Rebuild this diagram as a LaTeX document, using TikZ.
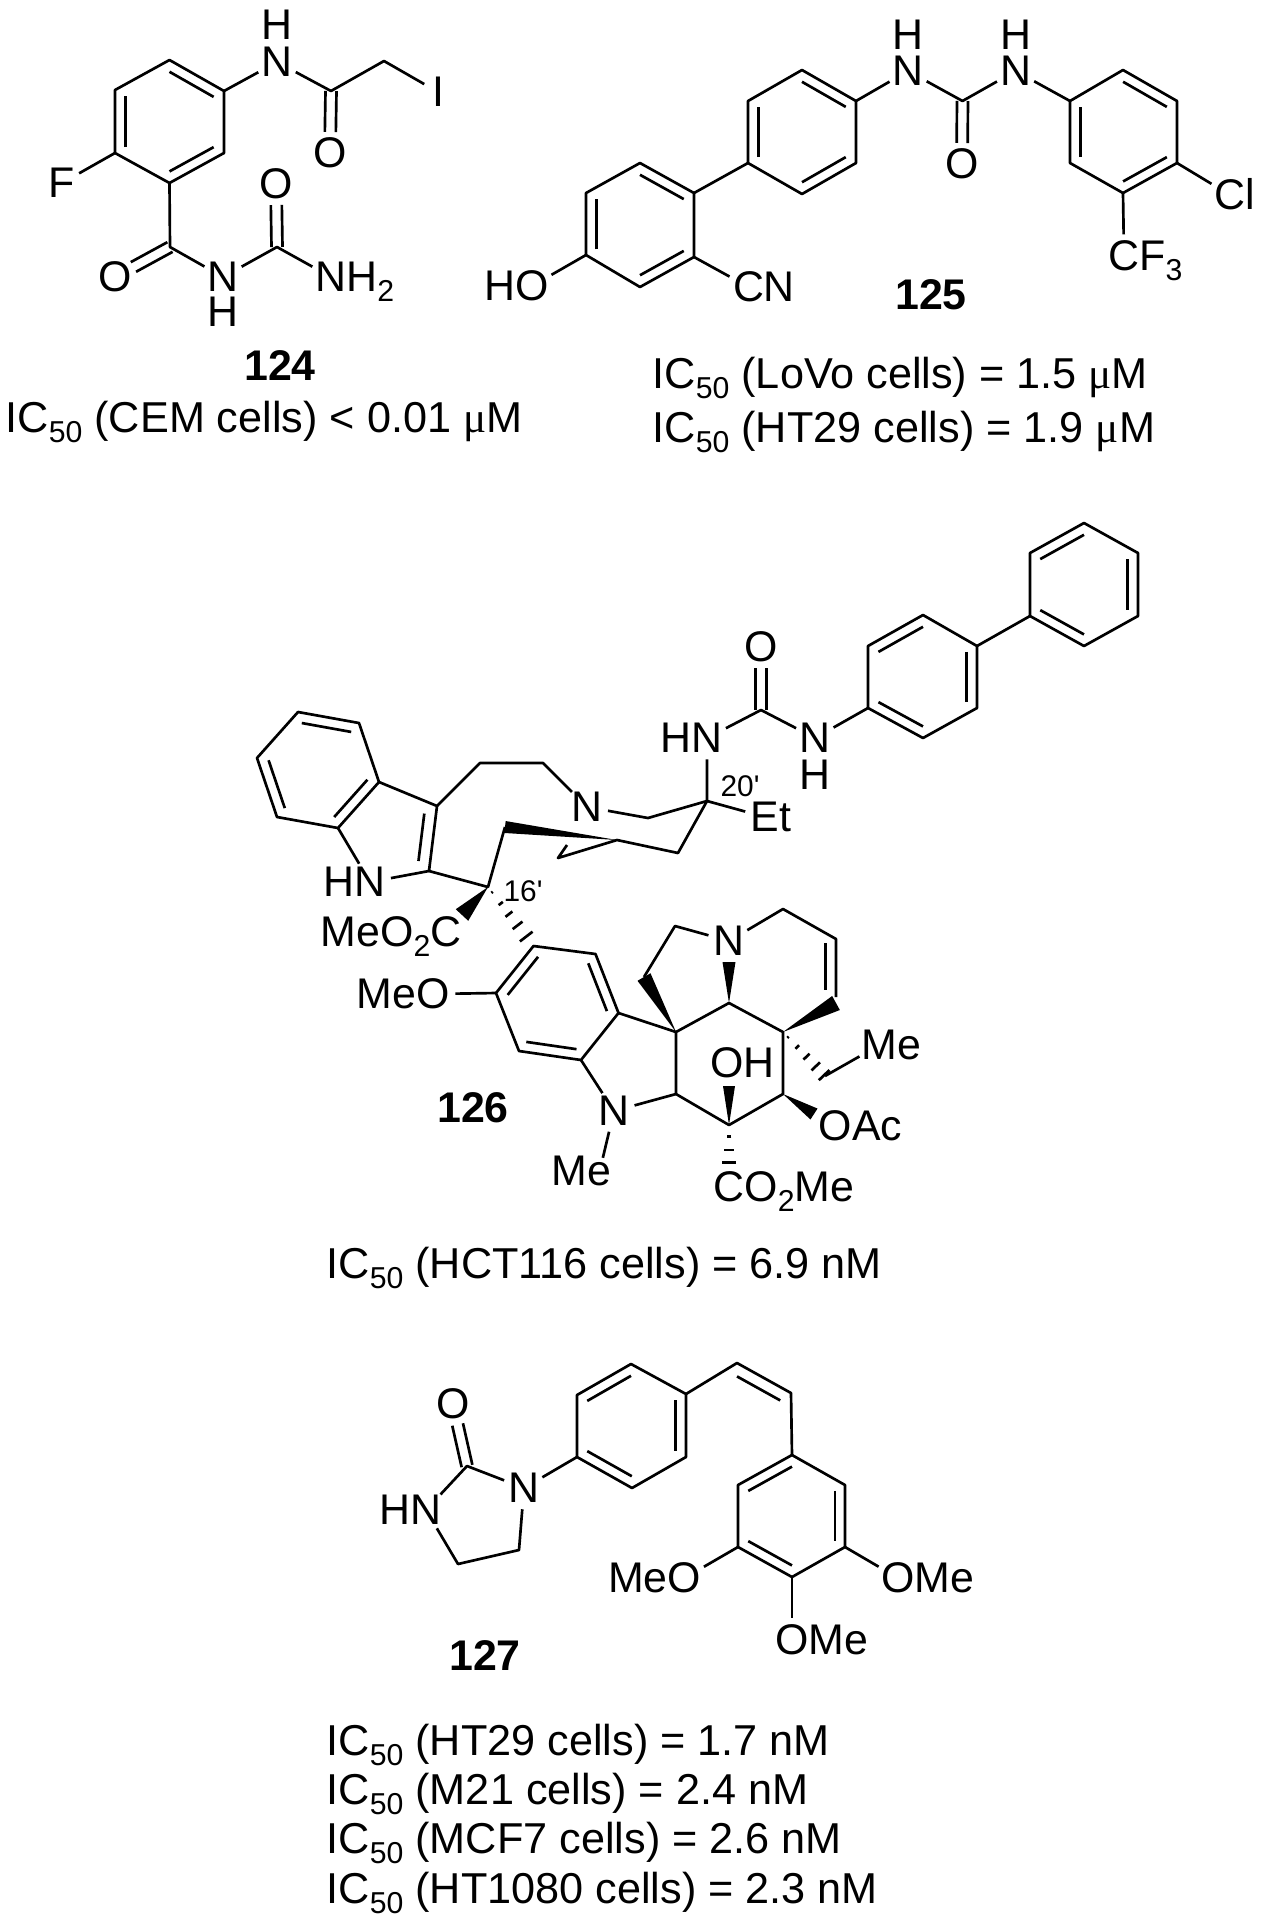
\documentclass[tikz,border=0pt]{standalone}
\usepackage{fontspec}
\usetikzlibrary{calc}
\setmainfont{Liberation Sans}
\newfontfamily\mufont{Liberation Serif}
\newfontfamily\plainsans{Liberation Sans}
\newcommand{\atomfont}{\fontsize{12.2pt}{14pt}\selectfont}
\newcommand{\capfont}{\fontsize{12.3pt}{14pt}\selectfont}
\newcommand{\smallfont}{\plainsans\fontsize{8.5pt}{9pt}\selectfont}
\newcommand{\low}[1]{\raisebox{-1mm}{\fontsize{8.6pt}{9pt}\selectfont #1}}
\newcommand{\after}[1]{\smash{\rlap{#1}}}
\newcommand{\before}[1]{\smash{\llap{#1}}}
\newcommand{\icfifty}{IC\low{50}}
\newcommand{\micro}{{\mufont μ}M}
% inner line of a ring double bond, pulled towards a centre
\newcommand{\dblbond}[4][0.19]{\draw[bondline] ($(#2)!#1!(#4)$) -- ($(#3)!#1!(#4)$);}
% carbonyl: two lines from carbon to oxygen
\newcommand{\codbl}[2]{
\draw[bondline,shorten >=2.1mm] ($(#1)!0.55mm!90:(#2)$) -- ($(#2)!0.55mm!-90:(#1)$);
\draw[bondline,shorten >=2.1mm] ($(#1)!0.55mm!-90:(#2)$) -- ($(#2)!0.55mm!90:(#1)$);}
\newcommand{\wedgebond}[3][0.65mm]{\fill ($(#3)!#1!90:(#2)$) -- (#2) -- ($(#3)!#1!-90:(#2)$) -- cycle;}
\newcommand{\hashbond}[4][0.08,0.3,0.5,0.72,0.94]{\foreach \hh in {#1}{
\draw[bondline] ($(#2)!\hh!(#3)!{\hh*#4}!90:(#3)$) -- ($(#2)!\hh!(#3)!{\hh*#4}!-90:(#3)$);}}

\begin{document}
\begin{tikzpicture}[x=0.1mm,y=-0.1mm,
atomnode/.style={circle, inner sep=0pt, outer sep=0pt, font=\atomfont},
hatom/.style={rectangle, inner sep=0pt, outer sep=0pt, font=\atomfont},
labelnode/.style={inner sep=0pt, font=\smallfont},
bignumber/.style={inner sep=0pt, font=\atomfont\bfseries},
capline/.style={anchor=base west, inner sep=0pt, font=\capfont},
bondline/.style={line width=0.76pt, line join=round}
]
\useasboundingbox (0,0) rectangle (1261,1920);

%Compound 124
\coordinate (a1) at (169.5,60); \coordinate (a2) at (224,91); \coordinate (a3) at (224,153);
\coordinate (a4) at (169.5,183); \coordinate (a5) at (115,153); \coordinate (a6) at (115,90);
\coordinate (actr) at (169.5,122);
\coordinate (acoA) at (331,91); \coordinate (ach) at (384,61);
\coordinate (acoB) at (170,247); \coordinate (acoC) at (277,247);
\node[atomnode] (anA) at (277,62) {N};
\node[hatom] (ahA) at (277,25) {H};
\node[atomnode] (aoA) at (330,153) {O};
\node[atomnode] (aiod) at (438,92) {I};
\node[atomnode] (afl) at (62,183) {F};
\node[atomnode] (aoB) at (115,277) {O};
\node[atomnode] (anB) at (223,277) {N};
\node[hatom] (ahB) at (223,312) {H};
\node[atomnode] (aoC) at (276,184) {O};
\node[atomnode] (anC) at (331,277) {N\after{H\low{2}}};
\node[bignumber] (anum) at (280,366) {124};
\node[capline] (acap) at (5,432) {\icfifty{} (CEM cells) < 0.01 \micro};
\draw[bondline] (a1) -- (a2) -- (a3) -- (a4) -- (a5) -- (a6) -- cycle;
\dblbond{a1}{a2}{actr} \dblbond{a3}{a4}{actr} \dblbond{a5}{a6}{actr}
\draw[bondline] (a2) -- (anA) -- (acoA) -- (ach) -- (aiod);
\draw[bondline] (a5) -- (afl);
\draw[bondline] (a4) -- (acoB) -- (anB) -- (acoC) -- (anC);
\codbl{acoA}{aoA} \codbl{acoB}{aoB} \codbl{acoC}{aoC}

%Compound 125
\coordinate (b1) at (802,70); \coordinate (b2) at (856,101); \coordinate (b3) at (856,163);
\coordinate (b4) at (802,194); \coordinate (b5) at (748,163); \coordinate (b6) at (748,101);
\coordinate (bctr) at (802,132);
\coordinate (c1) at (1070,101); \coordinate (c2) at (1123,70); \coordinate (c3) at (1177,101);
\coordinate (c4) at (1177,163); \coordinate (c5) at (1123,193); \coordinate (c6) at (1070,163);
\coordinate (cctr) at (1123.5,132);
\coordinate (d1) at (694,193); \coordinate (d2) at (694,257); \coordinate (d3) at (640,287);
\coordinate (d4) at (586,255); \coordinate (d5) at (586,193); \coordinate (d6) at (640,163);
\coordinate (dctr) at (640,225);
\coordinate (bco) at (962.5,101);
\node[atomnode] (bnA) at (908,71) {N};
\node[hatom] (bhA) at (908,35) {H};
\node[atomnode] (bnB) at (1015.5,71) {N};
\node[hatom] (bhB) at (1015.5,35) {H};
\node[atomnode] (boA) at (962,164) {O};
\node[atomnode] (bcl) at (1230,195) {C\after{l}};
\node[atomnode] (bcf) at (1124,256) {C\after{F\low{3}}};
\node[atomnode] (boh) at (532,286) {\before{H}O};
\node[atomnode] (bcn) at (748.5,287) {C\after{N}};
\node[bignumber] (bnum) at (931,295) {125};
\node[capline] (bcapA) at (652,388) {\icfifty{} (LoVo cells) = 1.5 \micro};
\node[capline] (bcapB) at (652,442) {\icfifty{} (HT29 cells) = 1.9 \micro};
\draw[bondline] (b1) -- (b2) -- (b3) -- (b4) -- (b5) -- (b6) -- cycle;
\dblbond{b1}{b2}{bctr} \dblbond{b3}{b4}{bctr} \dblbond{b5}{b6}{bctr}
\draw[bondline] (c1) -- (c2) -- (c3) -- (c4) -- (c5) -- (c6) -- cycle;
\dblbond{c2}{c3}{cctr} \dblbond{c4}{c5}{cctr} \dblbond{c6}{c1}{cctr}
\draw[bondline] (d1) -- (d2) -- (d3) -- (d4) -- (d5) -- (d6) -- cycle;
\dblbond{d6}{d1}{dctr} \dblbond{d2}{d3}{dctr} \dblbond{d4}{d5}{dctr}
\draw[bondline] (d1) -- (b5);
\draw[bondline] (b2) -- (bnA) -- (bco) -- (bnB) -- (c1);
\draw[bondline] (c4) -- (bcl);
\draw[bondline] (c5) -- (bcf);
\draw[bondline] (d4) -- (boh);
\draw[bondline] (d2) -- (bcn);
\codbl{bco}{boA}

%Compound 126, upper half
\coordinate (i1) at (298,712); \coordinate (i2) at (359,723); \coordinate (i3) at (379,782);
\coordinate (i4) at (338,828); \coordinate (i5) at (277,817); \coordinate (i6) at (257,758);
\coordinate (i7) at (437,806); \coordinate (i8) at (429,871);
\coordinate (ictr) at (318,770); \coordinate (jctr) at (390,834);
\coordinate (e1) at (480,763); \coordinate (e2) at (543,763);
\coordinate (e3) at (648,818); \coordinate (e4) at (678,853);
\coordinate (czo) at (707,801); \coordinate (csx) at (488,887);
\coordinate (wtip) at (617,840); \coordinate (wwide) at (505,827);
\coordinate (hkA) at (558,858); \coordinate (hkB) at (567,845);
\coordinate (wco) at (462,915);
\coordinate (uco) at (761,710);
\coordinate (f1) at (868,708); \coordinate (f2) at (868,646); \coordinate (f3) at (923,615);
\coordinate (f4) at (977,646); \coordinate (f5) at (977,708); \coordinate (f6) at (923,738);
\coordinate (fctr) at (923,677);
\coordinate (g1) at (1030,616); \coordinate (g2) at (1030,553); \coordinate (g3) at (1084,523);
\coordinate (g4) at (1138,553); \coordinate (g5) at (1138,616); \coordinate (g6) at (1084,646);
\coordinate (gctr) at (1084,585);
\node[atomnode] (inh) at (370,882) {\before{H}N};
\node[atomnode] (ina) at (587,807) {N};
\node[atomnode] (iet) at (765,817) {E\after{t}};
\node[atomnode] (inu) at (707,738) {\before{H}N};
\node[atomnode] (iou) at (761,647) {O};
\node[atomnode] (inv) at (815,738) {N};
\node[hatom] (ihv) at (815,775) {H};
\node[atomnode] (imec) at (446,932) {\before{MeO\low{2}}C};
\node[labelnode] (lsx) at (523,891) {16'};
\node[labelnode] (lzo) at (740,786) {20'};
\draw[bondline] (i1) -- (i2) -- (i3) -- (i4) -- (i5) -- (i6) -- cycle;
\dblbond{i1}{i2}{ictr} \dblbond{i3}{i4}{ictr} \dblbond{i5}{i6}{ictr}
\draw[bondline] (i3) -- (i7) -- (i8) -- (inh) -- (i4);
\dblbond[0.27]{i7}{i8}{jctr}
\draw[bondline] (i7) -- (e1) -- (e2) -- (ina) -- (e3) -- (czo);
\draw[bondline] (i8) -- (csx) -- (wwide);
\wedgebond[0.6mm]{wtip}{wwide}
\draw[bondline] (hkB) -- (hkA) -- (wtip) -- (e4) -- (czo);
\draw[bondline] (czo) -- (iet);
\draw[bondline] (czo) -- (inu) -- (uco) -- (inv) -- (f1);
\codbl{uco}{iou}
\draw[bondline] (f1) -- (f2) -- (f3) -- (f4) -- (f5) -- (f6) -- cycle;
\dblbond{f2}{f3}{fctr} \dblbond{f4}{f5}{fctr} \dblbond{f6}{f1}{fctr}
\draw[bondline] (g1) -- (g2) -- (g3) -- (g4) -- (g5) -- (g6) -- cycle;
\dblbond{g2}{g3}{gctr} \dblbond{g4}{g5}{gctr} \dblbond{g6}{g1}{gctr}
\draw[bondline] (f4) -- (g1);
\wedgebond[0.85mm]{csx}{wco}

%Compound 126, lower half
\coordinate (k1) at (533.5,946); \coordinate (k2) at (595.5,954); \coordinate (k3) at (618.5,1013);
\coordinate (k4) at (581,1060); \coordinate (k5) at (519,1051); \coordinate (k6) at (496,993);
\coordinate (kctr) at (557.5,1003);
\coordinate (m1) at (676,1032); \coordinate (m2) at (729,1003); \coordinate (m3) at (783,1032);
\coordinate (m4) at (783,1094); \coordinate (m5) at (729,1125); \coordinate (m6) at (676,1094);
\coordinate (p1) at (644,977); \coordinate (p2) at (675,926);
\coordinate (q1) at (783,909); \coordinate (q2) at (836,939); \coordinate (q3) at (836,997);
\coordinate (qctr) at (783,960); \coordinate (qwide) at (836,1003);
\coordinate (tnu) at (729,962); \coordinate (toh) at (729,1086); \coordinate (tac) at (814,1114);
\coordinate (tet) at (825,1076); \coordinate (tco) at (729,1172);
\node[atomnode] (kome) at (433,994) {\before{Me}O};
\node[atomnode] (knb) at (614,1111) {N};
\node[atomnode] (kme) at (599,1174) {\before{M}e};
\node[atomnode] (knt) at (729,941) {N};
\node[atomnode] (kme2) at (879.5,1045) {M\after{e}};
\node[atomnode] (koh) at (727,1063) {O\after{H}};
\node[atomnode] (kac) at (835.5,1126) {O\after{Ac}};
\node[atomnode] (kco) at (729,1187) {C\after{O\low{2}Me}};
\node[bignumber] (knum) at (473,1108) {126};
\node[capline] (kcap) at (326,1278) {\icfifty{} (HCT116 cells) = 6.9 nM};
\draw[bondline] (k1) -- (k2) -- (k3) -- (k4) -- (k5) -- (k6) -- cycle;
\dblbond{k1}{k6}{kctr} \dblbond{k2}{k3}{kctr} \dblbond{k4}{k5}{kctr}
\hashbond[0.09,0.28,0.46,0.65,0.84]{csx}{k1}{0.95mm}
\draw[bondline] (k6) -- (kome);
\draw[bondline] (k3) -- (m1);
\draw[bondline] (k4) -- (knb) -- (m6);
\draw[bondline] (knb) -- (kme);
\draw[bondline] (m1) -- (m2) -- (m3) -- (m4) -- (m5) -- (m6) -- cycle;
\wedgebond[0.65mm]{m2}{tnu}
\draw[bondline] (knt) -- (p2) -- (p1);
\wedgebond[0.75mm]{m1}{p1}
\draw[bondline] (knt) -- (q1) -- (q2) -- (q3);
\dblbond[0.2]{q2}{q3}{qctr}
\wedgebond[0.8mm]{m3}{qwide}
\hashbond[0.12,0.34,0.56,0.78,0.98]{m3}{tet}{0.75mm}
\draw[bondline] (tet) -- (kme2);
\wedgebond[0.6mm]{m5}{toh}
\wedgebond[0.65mm]{m4}{tac}
\hashbond[0.25,0.53,0.8,1.0]{m5}{tco}{0.9mm}

%Compound 127
\coordinate (r1) at (631,1364); \coordinate (r2) at (686,1394); \coordinate (r3) at (686,1457);
\coordinate (r4) at (632,1488); \coordinate (r5) at (577,1457); \coordinate (r6) at (577,1395);
\coordinate (rctr) at (631,1426);
\coordinate (vA) at (737,1363); \coordinate (vB) at (791,1393);
\coordinate (s1) at (792,1455); \coordinate (s2) at (845,1485); \coordinate (s3) at (845,1547);
\coordinate (s4) at (792,1577); \coordinate (s5) at (738,1547); \coordinate (s6) at (738,1485);
\coordinate (sctr) at (792,1516);
\coordinate (uC) at (467,1466); \coordinate (uD) at (458,1564); \coordinate (uE) at (519,1550);
\coordinate (vctr) at (737,1430);
\node[atomnode] (unA) at (524,1488) {N};
\node[atomnode] (uoA) at (453,1404) {O};
\node[atomnode] (unB) at (426,1510) {\before{H}N};
\node[atomnode] (someA) at (898,1578) {O\after{Me}};
\node[atomnode] (someB) at (684.5,1578) {\before{Me}O};
\node[atomnode] (someC) at (792,1640) {O\after{Me}};
\node[bignumber] (unum) at (485,1656) {127};
\node[capline] (ucapA) at (326,1755) {\icfifty{} (HT29 cells) = 1.7 nM};
\node[capline] (ucapB) at (326,1804) {\icfifty{} (M21 cells) = 2.4 nM};
\node[capline] (ucapC) at (326,1853) {\icfifty{} (MCF7 cells) = 2.6 nM};
\node[capline] (ucapD) at (326,1903) {\icfifty{} (HT1080 cells) = 2.3 nM};
\draw[bondline] (r1) -- (r2) -- (r3) -- (r4) -- (r5) -- (r6) -- cycle;
\dblbond{r1}{r6}{rctr} \dblbond{r2}{r3}{rctr} \dblbond{r4}{r5}{rctr}
\draw[bondline] (r2) -- (vA) -- (vB) -- (s1);
\dblbond[0.2]{vA}{vB}{vctr}
\draw[bondline] (s1) -- (s2) -- (s3) -- (s4) -- (s5) -- (s6) -- cycle;
\dblbond{s1}{s6}{sctr} \dblbond{s2}{s3}{sctr} \dblbond{s4}{s5}{sctr}
\draw[bondline] (s3) -- (someA);
\draw[bondline] (s5) -- (someB);
\draw[bondline] (s4) -- (someC);
\draw[bondline] (r5) -- (unA) -- (uC) -- (unB) -- (uD) -- (uE) -- (unA);
\codbl{uC}{uoA}

\end{tikzpicture}
\end{document}
